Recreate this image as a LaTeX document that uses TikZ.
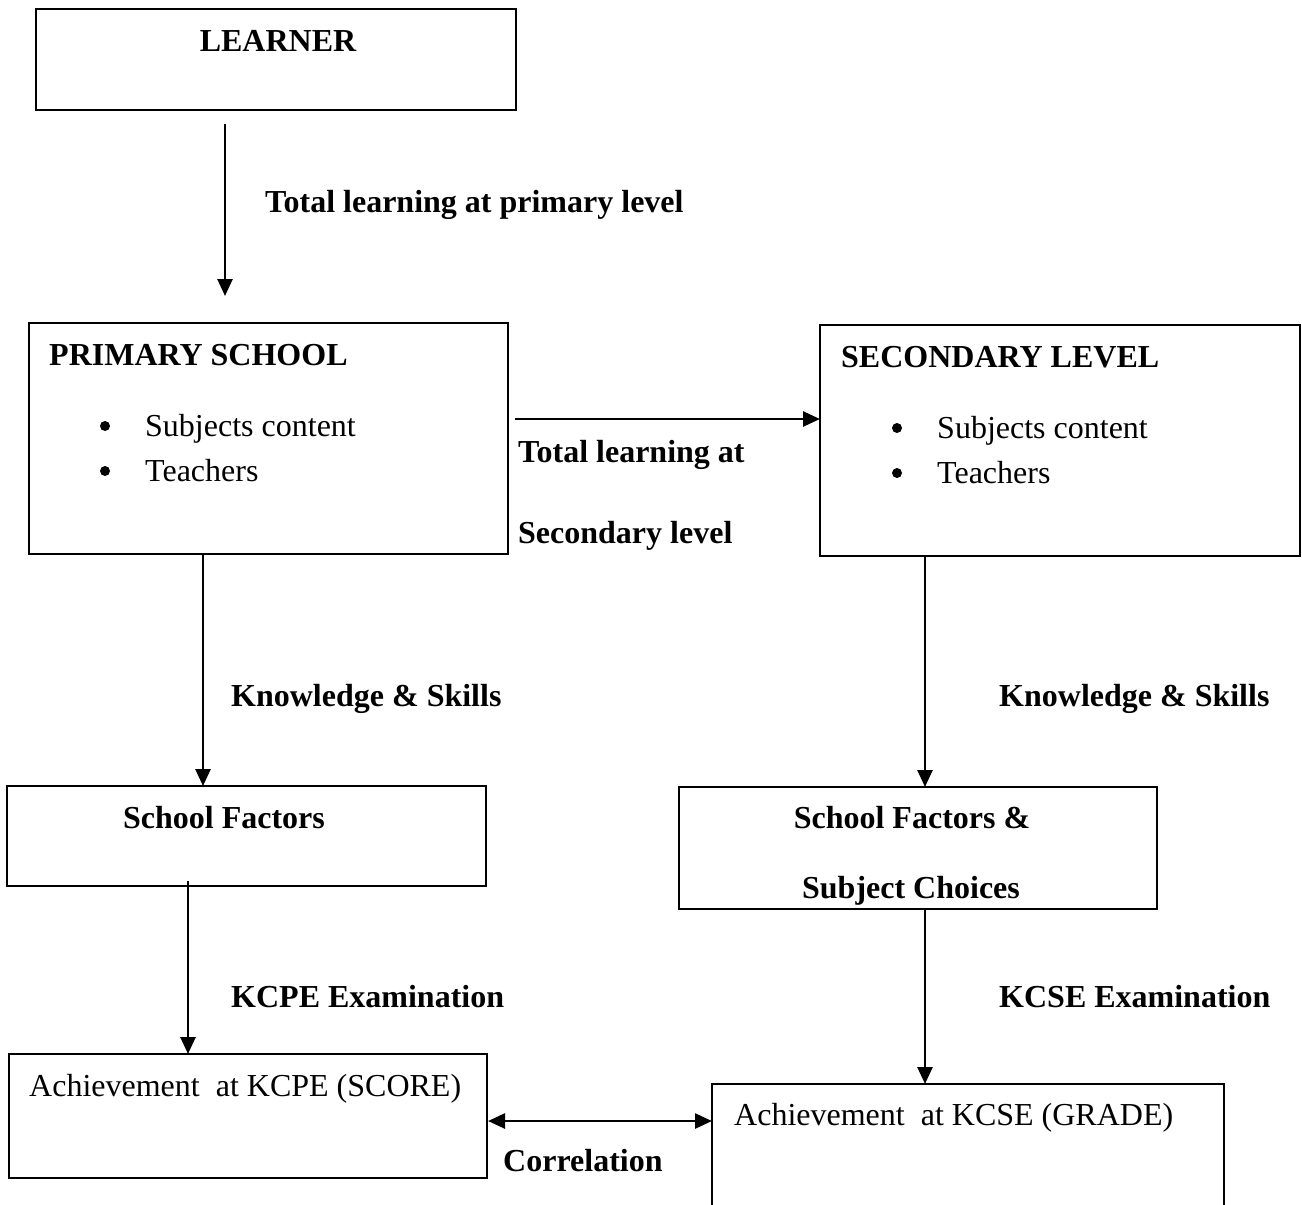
\documentclass[tikz,border=0pt]{standalone}
\usepackage{fontspec}
\setmainfont{Liberation Serif}
\usetikzlibrary{arrows.meta}
\begin{document}
\begin{tikzpicture}[x=1pt,y=-1pt,
  box/.style={draw=black, line width=2pt, anchor=north west, inner sep=0pt, outer sep=0pt},
  lbl/.style={font=\fontsize{32pt}{38pt}\selectfont\bfseries, anchor=base west, inner sep=0pt},
  clbl/.style={font=\fontsize{32pt}{38pt}\selectfont\bfseries, anchor=base, inner sep=0pt},
  txt/.style={font=\fontsize{32pt}{38pt}\selectfont, anchor=base west, inner sep=0pt},
  dot/.style={circle, fill=black, inner sep=0pt, minimum size=10pt},
  arr/.style={line width=2.6pt, -{Triangle[length=17pt,width=15pt]}},
  darr/.style={line width=2.6pt, {Triangle[length=17pt,width=15pt]}-{Triangle[length=17pt,width=15pt]}}]
\useasboundingbox (0,0) rectangle (1302,1205);
\clip (0,0) rectangle (1302,1205);

% boxes
\node[box, minimum width=480pt, minimum height=101pt] (learner) at (36,9) {};
\node[box, minimum width=479pt, minimum height=231pt] (primary) at (29,323) {};
\node[box, minimum width=480pt, minimum height=231pt] (secondary) at (820,325) {};
\node[box, minimum width=479pt, minimum height=100pt] (sf) at (7,786) {};
\node[box, minimum width=478pt, minimum height=122pt] (sfsc) at (679,787) {};
\node[box, minimum width=478pt, minimum height=124pt] (kcpe) at (9,1054) {};
\node[box, minimum width=512pt, minimum height=160pt] (kcse) at (712,1084) {};

% box texts
\node[clbl] (learnerT) at (278,51) {LEARNER};

\node[lbl] (primT) at (49,365) {PRIMARY SCHOOL};
\node[dot] (primB1) at (105,426) {};
\node[txt] (primI1) at (145,436) {Subjects content};
\node[dot] (primB2) at (105,471) {};
\node[txt] (primI2) at (145,481) {Teachers};

\node[lbl] (secT) at (841,367) {SECONDARY LEVEL};
\node[dot] (secB1) at (897,428) {};
\node[txt] (secI1) at (937,438) {Subjects content};
\node[dot] (secB2) at (897,473) {};
\node[txt] (secI2) at (937,483) {Teachers};

\node[clbl] (sfT) at (224,828) {School Factors};

\begin{scope}
\clip (sfsc.north west) rectangle (sfsc.south east);
\node[clbl] (sfscT1) at (912,828) {School Factors \&};
\node[clbl] (sfscT2) at (911,898) {Subject Choices};
\end{scope}

\node[txt] (kcpeT) at (29,1096) {Achievement\ \ at KCPE (SCORE)};
\node[txt] (kcseT) at (734,1125) {Achievement\ \ at KCSE (GRADE)};

% connector labels
\node[lbl] (l1) at (265,212) {Total learning at primary level};
\node[lbl] (l2a) at (518,462) {Total learning at};
\node[lbl] (l2b) at (518,543) {Secondary level};
\node[lbl] (l3) at (231,706) {Knowledge \& Skills};
\node[lbl] (l4) at (999,706) {Knowledge \& Skills};
\node[lbl] (l5) at (231,1007) {KCPE Examination};
\node[lbl] (l6) at (999,1007) {KCSE Examination};
\node[lbl] (l7) at (503,1171) {Correlation};

% connectors
\draw[arr] ([xshift=-51pt,yshift=-14pt]learner.south) -- ([xshift=-43.5pt,yshift=27pt]primary.north);
\draw[arr] ([xshift=7pt,yshift=19.5pt]primary.east) -- ([yshift=21.5pt]secondary.west);
\draw[arr] ([xshift=-65.5pt]primary.south) -- ([xshift=-43.5pt]sf.north);
\draw[arr] ([xshift=-135pt]secondary.south) -- ([xshift=7pt]sfsc.north);
\draw[arr] ([xshift=-58.5pt,yshift=5pt]sf.south) -- ([xshift=-60pt]kcpe.north);
\draw[arr] ([xshift=7pt]sfsc.south) -- ([xshift=213pt]kcse.north west);
\draw[darr] ([xshift=1pt,yshift=-67pt]kcpe.north east) -- ([yshift=-37pt]kcse.north west);
\end{tikzpicture}
\end{document}
